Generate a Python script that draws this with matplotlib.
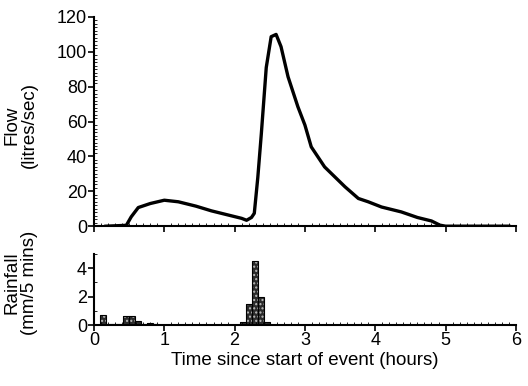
import numpy as np
import matplotlib
matplotlib.use("Agg")
import matplotlib.pyplot as plt
from matplotlib.ticker import MultipleLocator

plt.rcParams['font.family'] = ['Liberation Sans', 'DejaVu Sans']

# flow hydrograph (hours, litres/sec)
flow_t = [0.17, 0.46, 0.53, 0.63, 0.8, 1.0, 1.2, 1.45, 1.67, 1.9, 2.1, 2.17, 2.24,
          2.28, 2.33, 2.38, 2.45, 2.52, 2.59, 2.66, 2.76, 2.9, 3.0, 3.09, 3.28,
          3.57, 3.76, 3.9, 4.09, 4.37, 4.6, 4.8, 4.92, 5.0, 5.9]
flow_q = [0, 0.5, 5.4, 10.7, 13, 14.9, 14, 11.5, 8.8, 6.5, 4.5, 3.4, 5,
          7.4, 28, 53, 91, 108.7, 110, 103, 85.7, 68.5, 58, 45.5, 34,
          22.6, 15.9, 14, 11, 8.2, 5, 3, 0.6, 0, 0]

# rainfall in 5 minute bins (bin start in hours, mm/5 mins)
rain_t = [0.083, 0.167, 0.25, 0.333, 0.417, 0.5, 0.583, 0.667, 0.75, 0.833,
          2.083, 2.167, 2.25, 2.333, 2.417]
rain_mm = [0.7, 0.08, 0.08, 0.08, 0.6, 0.6, 0.3, 0.1, 0.15, 0.08,
           0.2, 1.5, 4.5, 2.0, 0.2]

fig = plt.figure(figsize=(5.28, 3.86), dpi=100)
ax1 = fig.add_axes([0.178, 0.414, 0.799, 0.542])
ax2 = fig.add_axes([0.178, 0.158, 0.799, 0.184])

ax1.plot(flow_t, flow_q, color='black', lw=2.4, solid_joinstyle='round')
ax1.set_xlim(0, 6)
ax1.set_ylim(0, 120)
ax1.set_yticks(np.arange(0, 121, 20))
ax1.yaxis.set_minor_locator(MultipleLocator(2))
ax1.set_xticks(range(7))
ax1.xaxis.set_minor_locator(MultipleLocator(0.1))
ax1.tick_params(labelbottom=False)

w = 1 / 12
ax2.bar(rain_t, rain_mm, width=w, align='edge', color='#2b2b2b',
        hatch='....', edgecolor='#bdbdbd', linewidth=0)
ax2.bar(rain_t, rain_mm, width=w, align='edge', fill=False,
        edgecolor='black', linewidth=0.8)
ax2.set_xlim(0, 6)
ax2.set_ylim(0, 5)
ax2.set_yticks([0, 2, 4])
ax2.yaxis.set_minor_locator(MultipleLocator(1))
ax2.set_xticks(range(7))
ax2.xaxis.set_minor_locator(MultipleLocator(0.1))
ax2.set_xlabel('Time since start of event (hours)', fontsize=13.5, labelpad=2)

for ax in (ax1, ax2):
    for s in ('top', 'right'):
        ax.spines[s].set_visible(False)
    ax.spines['left'].set_linewidth(1.5)
    ax.spines['bottom'].set_linewidth(1.5)
    ax.tick_params(which='major', direction='out', length=4, width=1.2,
                   labelsize=13, pad=1)
    ax.tick_params(which='minor', direction='in', length=2, width=0.6)

fig.text(21 / 528, 1 - 125 / 386, 'Flow\n(litres/sec)', rotation=90,
         ha='center', va='center', fontsize=13.5, linespacing=1.0,
         multialignment='center')
fig.text(21 / 528, 1 - 283 / 386, 'Rainfall\n(mm/5 mins)', rotation=90,
         ha='center', va='center', fontsize=13.5, linespacing=1.0,
         multialignment='center')

fig.savefig('out.png', dpi=100)
